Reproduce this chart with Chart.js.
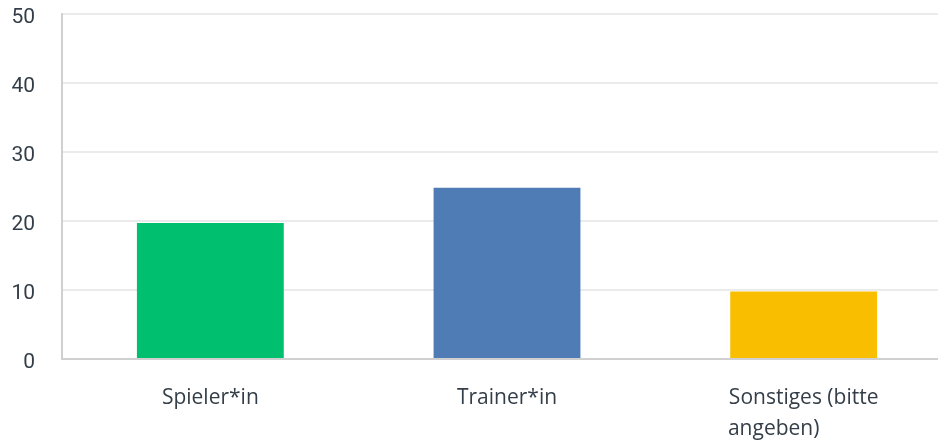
<!DOCTYPE html>
<html>
<head>
<meta charset="utf-8">
<script src="https://cdn.jsdelivr.net/npm/chart.js@4"></script>
<style>
  html, body { margin: 0; padding: 0; background: #ffffff; overflow: hidden; }
  #wrap { position: relative; width: 952px; height: 468px; margin-top: -26px; }
</style>
</head>
<body>
<div id="wrap"><canvas id="c"></canvas></div>
<script>
const categories = ["Spieler*in", "Trainer*in", ["Sonstiges (bitte", "angeben)"]];
const values = [19.7, 24.8, 9.8];
const barColors = ["#00BF6F", "#507CB6", "#F9BE00"];
const yTicks = [0, 10, 20, 30, 40, 50];

const textColor = "#333E48";
const xFont = { family: "Open Sans", size: 21, lineHeight: 1.45 };

// left-align the lines of a wrapped label by padding shorter lines with spaces
const measureCtx = document.createElement("canvas").getContext("2d");
function leftAlignLines(label) {
  if (!Array.isArray(label)) return label;
  measureCtx.font = xFont.size + "px '" + xFont.family + "'";
  const widths = label.map(l => measureCtx.measureText(l).width);
  const maxW = Math.max(...widths);
  const sp = measureCtx.measureText(" ").width;
  return label.map((l, i) => l + " ".repeat(Math.round((maxW - widths[i]) / sp)));
}

new Chart(document.getElementById("c"), {
  type: "bar",
  data: {
    labels: categories,
    datasets: [{
      data: values,
      backgroundColor: barColors,
      borderWidth: 0,
      barPercentage: 0.495,
      categoryPercentage: 1.0
    }]
  },
  options: {
    responsive: true,
    maintainAspectRatio: false,
    animation: false,
    layout: { padding: { left: 0, right: 0, top: 0, bottom: -26 } },
    plugins: { legend: { display: false }, tooltip: { enabled: false } },
    scales: {
      x: {
        grid: { display: false, drawTicks: false },
        border: { color: "#D0D0D0", width: 2 },
        ticks: {
          color: textColor,
          font: xFont,
          padding: 24,
          maxRotation: 0,
          autoSkip: false,
          callback: function (value) { return leftAlignLines(this.getLabelForValue(value)); }
        }
      },
      y: {
        min: 0, max: 50,
        afterBuildTicks: (axis) => { axis.ticks = yTicks.map(v => ({ value: v })); },
        afterFit: (axis) => { axis.width = 62; },
        grid: { color: "#EBEBEB", lineWidth: 2, drawTicks: false },
        border: { color: "#D0D0D0", width: 2 },
        ticks: {
          color: textColor,
          font: { family: "Roboto", size: 21 },
          padding: 27,
          labelOffset: 4
        }
      }
    }
  }
});
</script>
</body>
</html>
